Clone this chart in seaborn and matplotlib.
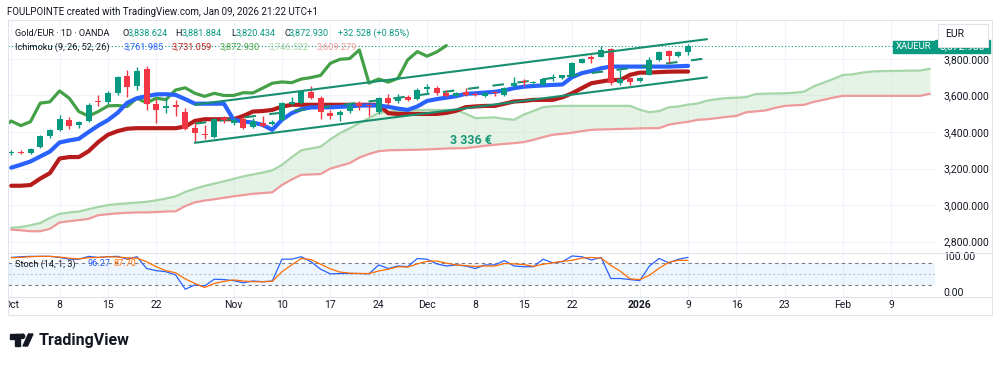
import numpy as np
import pandas as pd
import seaborn as sns
import matplotlib.pyplot as plt
from matplotlib.patches import Rectangle, Polygon, Ellipse
from matplotlib.lines import Line2D

# ---- values (Gold/EUR, daily, OANDA) ----
opens = [3286, 3292, 3285, 3318, 3376, 3412, 3467, 3436, 3458, 3570,
         3562, 3612, 3707, 3652, 3745, 3552, 3532, 3549, 3512, 3422,
         3390, 3372, 3475, 3452, 3472, 3425, 3452, 3443, 3467, 3555,
         3560, 3620, 3585, 3505, 3494, 3513, 3558, 3545, 3512, 3585,
         3568, 3590, 3580, 3638, 3640, 3612, 3598, 3621, 3610, 3595,
         3618, 3603, 3650, 3678, 3668, 3660, 3696, 3695, 3704, 3780,
         3806, 3813, 3852, 3668, 3694, 3680, 3713, 3795, 3845, 3818,
         3838.624]
highs = [3300, 3302, 3312, 3385, 3415, 3494, 3483, 3460, 3560, 3604,
         3625, 3705, 3740, 3758, 3760, 3580, 3585, 3575, 3530, 3450,
         3440, 3475, 3485, 3480, 3480, 3475, 3490, 3465, 3565, 3590,
         3630, 3650, 3595, 3520, 3520, 3560, 3570, 3550, 3590, 3610,
         3610, 3605, 3640, 3663, 3650, 3630, 3620, 3640, 3620, 3620,
         3625, 3645, 3700, 3690, 3680, 3695, 3720, 3712, 3785, 3805,
         3820, 3868, 3860, 3740, 3700, 3700, 3810, 3845, 3850, 3845,
         3881.884]
lows = [3276, 3278, 3280, 3312, 3370, 3408, 3417, 3420, 3455, 3543,
        3555, 3605, 3590, 3630, 3518, 3450, 3506, 3490, 3410, 3345,
        3360, 3365, 3450, 3440, 3418, 3420, 3430, 3438, 3462, 3548,
        3555, 3580, 3470, 3470, 3460, 3505, 3520, 3490, 3500, 3550,
        3560, 3570, 3575, 3608, 3605, 3590, 3590, 3595, 3595, 3590,
        3595, 3598, 3645, 3650, 3655, 3655, 3680, 3690, 3700, 3775,
        3780, 3808, 3655, 3660, 3655, 3675, 3710, 3790, 3780, 3810,
        3820.434]
closes = [3290, 3286, 3305, 3378, 3410, 3470, 3432, 3455, 3548, 3565,
          3612, 3700, 3645, 3736, 3552, 3522, 3545, 3535, 3418, 3392,
          3382, 3470, 3465, 3465, 3422, 3460, 3435, 3457, 3558, 3565,
          3625, 3585, 3512, 3487, 3512, 3543, 3545, 3540, 3585, 3560,
          3585, 3577, 3630, 3642, 3612, 3595, 3612, 3600, 3600, 3615,
          3614, 3640, 3667, 3674, 3670, 3690, 3698, 3710, 3776, 3798,
          3802, 3849, 3668, 3690, 3673, 3694, 3795, 3840, 3815, 3838,
          3872.930]

tenkan = [3205, 3221, 3239, 3266, 3293, 3343, 3354, 3363, 3400, 3435,
          3465, 3505, 3560, 3585, 3596, 3606, 3607, 3603, 3580, 3555,
          3555, 3555, 3555, 3467, 3457, 3452, 3439, 3412, 3467, 3503,
          3525, 3535, 3535, 3535, 3538, 3540, 3545, 3545, 3545, 3538,
          3528, 3521, 3540, 3570, 3580, 3588, 3596, 3609, 3612, 3616,
          3620, 3628, 3640, 3648, 3652, 3655, 3658, 3660, 3700, 3722,
          3734, 3749, 3758, 3758, 3758, 3758, 3758, 3758, 3758, 3760,
          3761.985]
kijun = [3106, 3106, 3110, 3145, 3175, 3255, 3263, 3263, 3295, 3345,
         3385, 3405, 3418, 3421, 3421, 3421, 3421, 3421, 3430, 3461,
         3470, 3470, 3470, 3470, 3488, 3512, 3515, 3521, 3539, 3549,
         3549, 3549, 3549, 3549, 3549, 3549, 3549, 3549, 3549, 3503,
         3499, 3499, 3499, 3499, 3499, 3505, 3516, 3536, 3540, 3543,
         3543, 3555, 3567, 3570, 3576, 3576, 3576, 3590, 3612, 3640,
         3667, 3676, 3685, 3685, 3713, 3725, 3725, 3728, 3730, 3731,
         3731.059]
# leading spans run 25 bars past the last candle
senkou_a = [2876, 2880, 2890, 2902, 2930, 2952, 2960, 2965, 2978, 2990,
            3000, 3006, 3010, 3014, 3018, 3026, 3036, 3048, 3072, 3090,
            3105, 3118, 3130, 3144, 3157, 3168, 3178, 3190, 3220, 3262,
            3300, 3310, 3320, 3360, 3394, 3420, 3449, 3476, 3505, 3512,
            3515, 3518, 3520, 3521, 3521, 3521, 3521, 3500, 3476, 3478,
            3480, 3472, 3467, 3495, 3515, 3536, 3541, 3543, 3543, 3543,
            3543, 3543, 3543, 3543, 3543, 3522, 3508, 3515, 3535, 3540,
            3550, 3556, 3572, 3580, 3586, 3588, 3591, 3608, 3610, 3611,
            3612, 3615, 3621, 3650, 3670, 3690, 3712, 3716, 3725, 3731,
            3733, 3734, 3735, 3736, 3736, 3746.522]
senkou_b = [2866, 2862, 2857, 2857, 2870, 2905, 2912, 2918, 2925, 2945,
            2950, 2955, 2958, 2960, 2960, 2962, 2965, 2966, 2995, 3015,
            3025, 3032, 3040, 3048, 3055, 3062, 3066, 3070, 3110, 3140,
            3166, 3168, 3170, 3200, 3215, 3230, 3260, 3280, 3295, 3300,
            3301, 3302, 3303, 3305, 3307, 3310, 3311, 3312, 3318, 3325,
            3330, 3335, 3339, 3345, 3357, 3372, 3385, 3390, 3396, 3405,
            3412, 3414, 3415, 3417, 3418, 3420, 3421, 3421, 3440, 3449,
            3456, 3467, 3470, 3476, 3483, 3488, 3508, 3513, 3518, 3532,
            3543, 3546, 3549, 3565, 3576, 3588, 3598, 3598, 3598, 3598,
            3598, 3598, 3598, 3598, 3598, 3609.279]

stoch_k = [96, 98, 99, 99, 99, 96, 91, 91, 99, 96, 98, 99, 91, 98,
           65, 59, 56, 47, 7, 19, 16, 35, 34, 31, 25, 30, 28, 30,
           91, 91, 98, 84, 63, 50, 51, 51, 51, 50, 75, 65, 72, 70,
           93, 91, 78, 72, 75, 72, 65, 75, 75, 87, 72, 70, 70, 91,
           81, 84, 100, 98, 89, 96, 37, 37, 34, 31, 72, 93, 81, 91, 96.27]
stoch_d = [95, 96, 98, 99, 99, 97, 94, 92, 95, 96, 98, 97, 95, 94,
           84, 70, 59, 53, 36, 23, 12, 23, 29, 33, 30, 28, 28, 29,
           56, 75, 93, 90, 77, 64, 55, 52, 51, 51, 58, 63, 70, 69,
           78, 85, 86, 80, 75, 73, 71, 72, 72, 79, 78, 76, 71, 77,
           81, 85, 88, 94, 96, 94, 74, 57, 36, 34, 46, 66, 82, 88, 87.70]

holidays = ['2025-12-25', '2026-01-01']
tick_dates = ['2025-10-01', '2025-10-08', '2025-10-15', '2025-10-22',
              '2025-11-03', '2025-11-10', '2025-11-17', '2025-11-24',
              '2025-12-01', '2025-12-08', '2025-12-15', '2025-12-22',
              '2026-01-02', '2026-01-09', '2026-01-16', '2026-01-23',
              '2026-02-02', '2026-02-09']
tick_labels = ['Oct', '8', '15', '22', 'Nov', '10', '17', '24', 'Dec', '8',
               '15', '22', '2026', '9', '16', '23', 'Feb', '9']
price_ticks = [2800, 3000, 3200, 3400, 3600, 3800]

# parallel channel drawing (anchor bar index, price)
channel_x = [19.0, 71.95]
channel_upper = [3550, 3908]
channel_mid = [3445.5, 3803.5]
channel_lower = [3341, 3699]
cloud_label = '3 336 €'
cloud_label_pos = (47.5, 3354)

UP, DOWN = '#089981', '#F23645'
TXT = '#131722'
GRID = '#f0f3fa'
BORDER = '#e0e3eb'

sns.set_theme(style='white')
plt.rcParams['font.family'] = ['Roboto', 'DejaVu Sans']

W, H = 1000, 365
fig = plt.figure(figsize=(W / 100, H / 100), dpi=100)
fig.patch.set_facecolor('white')


def box(x0, y0, x1, y1):
    return [x0 / W, 1 - y1 / H, (x1 - x0) / W, (y1 - y0) / H]


def fx(x):
    return x / W


def fy(y):
    return 1 - y / H


days = pd.bdate_range('2025-10-01', '2026-03-06')
days = days[~days.isin(pd.to_datetime(holidays))]
tick_pos = days.get_indexer(pd.to_datetime(tick_dates))
xlim = (-0.33, 95.53)

ax = fig.add_axes(box(8, 20, 935, 253))
ax_st = fig.add_axes(box(8, 253, 935, 297))
ax_dt = fig.add_axes(box(8, 297, 935, 315))

# ---- main pane ----
idx = np.arange(len(closes))
o, h, l, c = map(np.array, (opens, highs, lows, closes))
cols = np.where(c >= o, UP, DOWN)

cidx = np.arange(len(senkou_a))
sa, sb = np.array(senkou_a), np.array(senkou_b)
ax.fill_between(cidx, sa, sb, where=sa >= sb, interpolate=True,
                color='#A5D6A7', alpha=0.28, lw=0, zorder=1)
ax.fill_between(cidx, sa, sb, where=sa < sb, interpolate=True,
                color='#EF9A9A', alpha=0.28, lw=0, zorder=1)
sns.lineplot(x=cidx, y=sa, ax=ax, color='#A5D6A7', linewidth=1.6, zorder=2)
sns.lineplot(x=cidx, y=sb, ax=ax, color='#EF9A9A', linewidth=1.6, zorder=2)

# lagging span = closes shifted back 25 bars
sns.lineplot(x=np.arange(-1, len(closes) - 25), y=c[24:], ax=ax,
             color='#43A047', linewidth=2.3, zorder=3)
sns.lineplot(x=idx, y=kijun, ax=ax, color='#B71C1C', linewidth=3, zorder=3)
sns.lineplot(x=idx, y=tenkan, ax=ax, color='#2962FF', linewidth=3, zorder=3)

ax.plot(channel_x, channel_mid, color='#178f6f', lw=1.5,
        ls=(0, (5.5, 6.5)), zorder=3.5)

ax.vlines(idx, l, h, colors=cols, lw=1, zorder=4)
ax.bar(idx, np.maximum(np.abs(c - o), 6), bottom=np.minimum(o, c),
       width=0.62, color=cols, linewidth=0, zorder=5)

ax.plot(channel_x, channel_upper, color='#178f6f', lw=1.5, zorder=6)
ax.plot(channel_x, channel_lower, color='#178f6f', lw=1.5, zorder=6)
ax.text(*cloud_label_pos, cloud_label, color='#1a9878', fontsize=9,
        fontweight='bold', ha='center', va='center', zorder=6)
ax.axhline(closes[-1], color=UP, lw=0.8, ls=(0, (1, 2)), zorder=2)

ax.set_xlim(*xlim)
ax.set_ylim(2738, 4013)
ax.yaxis.tick_right()
ax.set_yticks(price_ticks)
ax.set_yticklabels([f'{v:,.3f}' for v in price_ticks])
ax.set_xticks(tick_pos)
ax.tick_params(axis='y', length=0, pad=6, labelsize=7.5, colors=TXT)
ax.tick_params(axis='x', length=0, labelbottom=False)
ax.grid(True, color=GRID, lw=0.8)
ax.set_xlabel('')
ax.set_ylabel('')
for s in ax.spines.values():
    s.set_visible(False)

# ---- stochastic pane ----
ax_st.axhspan(20, 80, color='#2196F3', alpha=0.08, lw=0)
ax_st.axhline(80, color='#787B86', lw=0.8, ls=(0, (3, 3)))
ax_st.axhline(20, color='#787B86', lw=0.8, ls=(0, (3, 3)))
ax_st.axhline(50, color='#787B86', lw=0.8, alpha=0.4, ls=(0, (2, 2)))
sns.lineplot(x=idx, y=stoch_k, ax=ax_st, color='#2962FF', linewidth=0.9)
sns.lineplot(x=idx, y=stoch_d, ax=ax_st, color='#FF6D00', linewidth=0.9)
ax_st.set_xlim(*xlim)
ax_st.set_ylim(-14.8, 108.4)
ax_st.yaxis.tick_right()
ax_st.set_yticks([0, 100])
ax_st.set_yticklabels(['0.00', '100.00'])
ax_st.set_xticks(tick_pos)
ax_st.tick_params(axis='y', length=0, pad=6, labelsize=7.5, colors=TXT)
ax_st.tick_params(axis='x', length=0, labelbottom=False)
ax_st.grid(True, axis='x', color=GRID, lw=0.8)
ax_st.set_xlabel('')
ax_st.set_ylabel('')
for s in ax_st.spines.values():
    s.set_visible(False)

# ---- date row (clipped like the original) ----
ax_dt.set_xlim(*xlim)
ax_dt.set_ylim(0, 1)
ax_dt.axis('off')
for pos, lab in zip(tick_pos, tick_labels):
    ax_dt.text(pos, 0.55, lab, ha='center', va='center', fontsize=7.5,
               color=TXT, clip_on=True,
               fontweight='bold' if lab == '2026' else 'normal')

# ---- frame and separators ----
fig.add_artist(Rectangle((fx(8), fy(315)), 984 / W, 295 / H, fill=False,
                         edgecolor=BORDER, lw=0.8, transform=fig.transFigure,
                         zorder=10))
for yy in (253, 297):
    fig.add_artist(Line2D([fx(8), fx(992)], [fy(yy), fy(yy)], color=BORDER,
                          lw=0.8, transform=fig.transFigure, zorder=10))

# ---- header / legends ----
fig.text(fx(7), fy(12), 'FOULPOINTE created with TradingView.com, Jan 09, 2026 21:22 UTC+1',
         fontsize=7, color=TXT, va='center')

row1 = [(15, 'Gold/EUR · 1D · OANDA', TXT), (122.7, 'O', TXT),
        (127.7, '3,838.624', UP), (175.7, 'H', TXT), (181.7, '3,881.884', UP),
        (231, 'L', TXT), (235.7, '3,820.434', UP), (284.3, 'C', TXT),
        (289, '3,872.930', UP), (337.7, '+32.528 (+0.85%)', UP)]
for x, s, col in row1:
    fig.text(fx(x), fy(33), s, fontsize=6.6, color=col, va='center')

row2 = [(15, 'Ichimoku (9, 26, 52, 26)', TXT), (123.3, '3,761.985', '#2962FF'),
        (171.7, '3,731.059', '#B71C1C'), (220, '3,872.930', '#43A047'),
        (268.3, '3,746.522', '#A5D6A7'), (316.7, '3,609.279', '#EF9A9A')]
for x, s, col in row2:
    fig.text(fx(x), fy(47), s, fontsize=6.6, color=col, va='center')

row3 = [(15, 'Stoch (14, 1, 3)', TXT), (87.3, '96.27', '#2962FF'),
        (113.3, '87.70', '#FF6D00')]
for x, s, col in row3:
    fig.text(fx(x), fy(264), s, fontsize=6.6, color=col, va='center')

# ---- last price labels ----
fig.add_artist(Rectangle((fx(893), fy(52.5)), 41 / W, 12 / H, color=UP,
                         transform=fig.transFigure, zorder=11))
fig.text(fx(913.5), fy(46.5), 'XAUEUR', fontsize=6.8, color='white',
         ha='center', va='center', zorder=12)
fig.add_artist(Rectangle((fx(935), fy(53)), 55 / W, 13 / H, color=UP,
                         transform=fig.transFigure, zorder=11))
fig.text(fx(962.5), fy(46.5), '3,872.930', fontsize=7.5, color='white',
         ha='center', va='center', zorder=12)
fig.add_artist(Rectangle((fx(938), fy(46.5)), 50 / W, 22.5 / H, facecolor='white',
                         edgecolor=BORDER, lw=0.8, transform=fig.transFigure,
                         zorder=13))
fig.text(fx(945), fy(34), 'EUR', fontsize=7.5, color=TXT, va='center', zorder=14)

# ---- TradingView logo ----
tf = fig.transFigure
fig.add_artist(Rectangle((fx(9.5), fy(338.5)), 10 / W, 4.5 / H, color=TXT, transform=tf))
fig.add_artist(Rectangle((fx(14.5), fy(346)), 5 / W, 12 / H, color=TXT, transform=tf))
fig.add_artist(Ellipse((fx(22.5), fy(336.3)), 4.4 / W, 4.4 / H, color=TXT, transform=tf))
fig.add_artist(Polygon([(fx(23), fy(346)), (fx(27.5), fy(346)), (fx(33), fy(334)),
                        (fx(28.5), fy(334))], closed=True, color=TXT, transform=tf))
fig.text(fx(39), fy(340), 'TradingView', fontsize=11.5, fontweight='bold',
         color=TXT, va='center')

fig.savefig('out.png', dpi=100, facecolor='white')
